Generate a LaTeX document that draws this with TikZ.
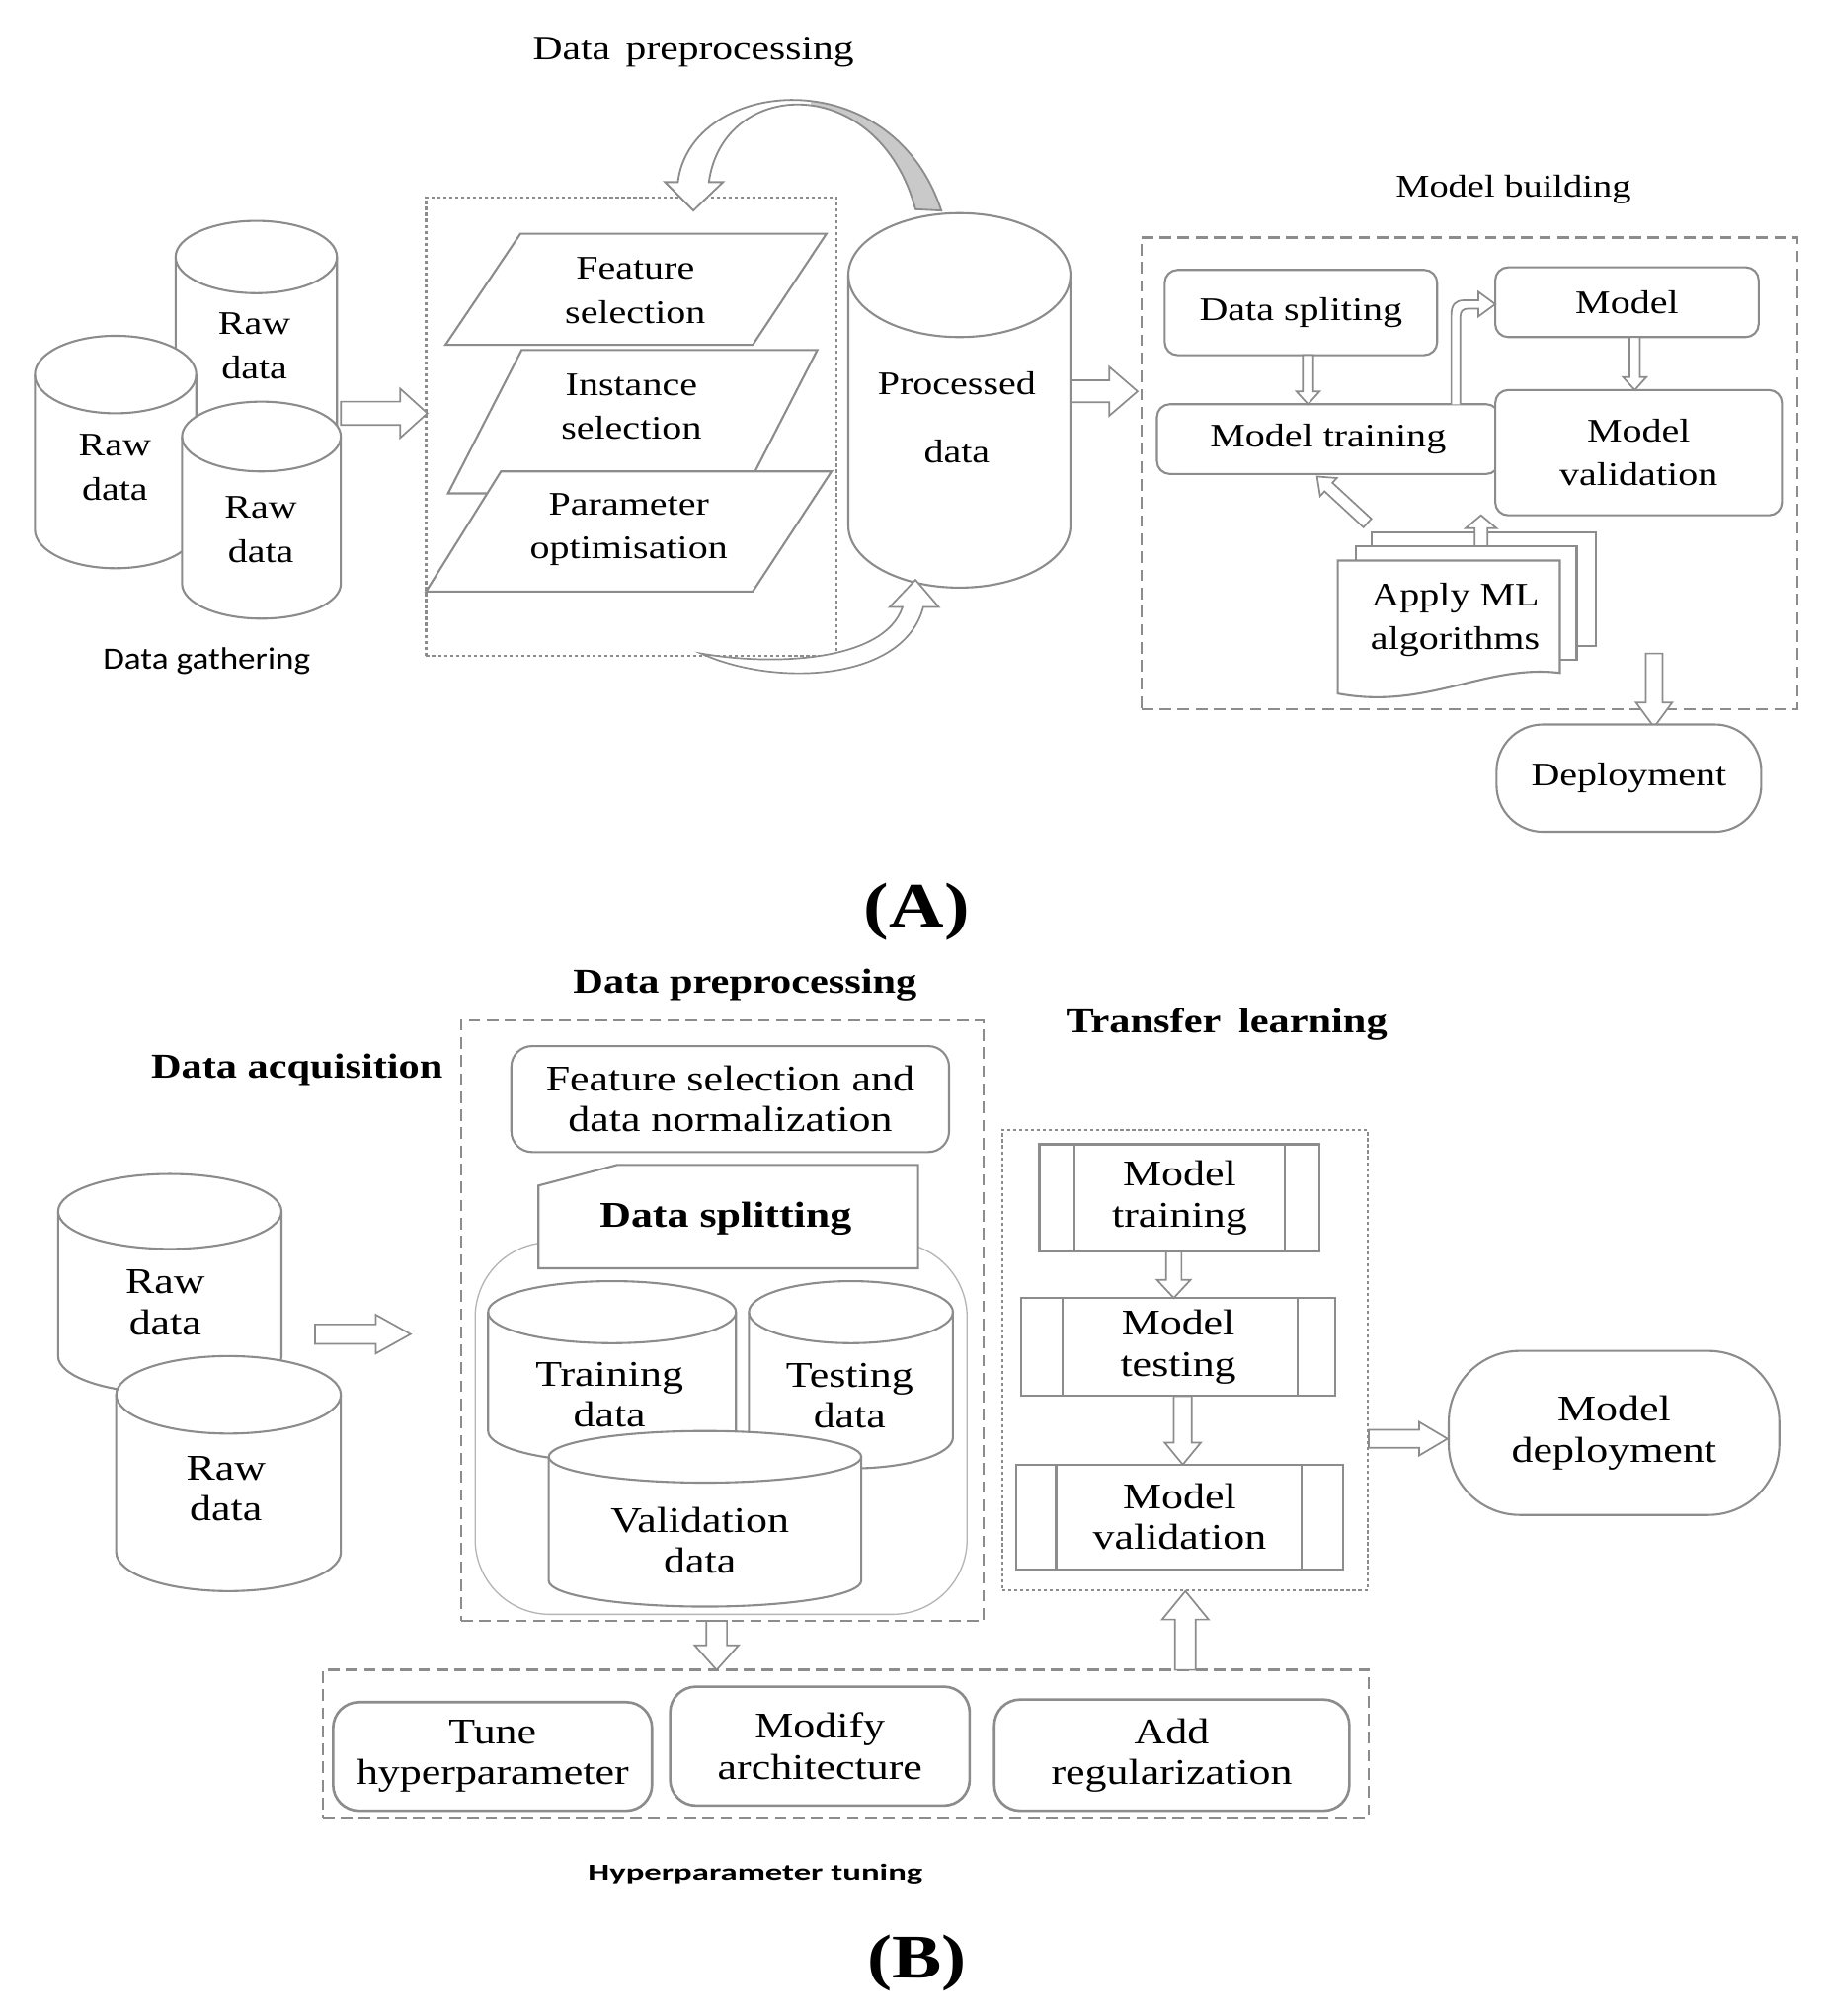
\documentclass[tikz,border=0pt]{standalone}
\usepackage{fontspec}
\setmainfont{Liberation Serif}[FakeStretch=1.2]
\newfontfamily\calA{Carlito}[FakeStretch=1.12]
\newfontfamily\calB{Carlito}[FakeStretch=1.5]
\usetikzlibrary{calc}
\definecolor{lg}{HTML}{8C8C8C}
\definecolor{lg2}{HTML}{B4B4B4}
\definecolor{gfill}{HTML}{C9C9C9}
\newcommand\fA{\fontsize{25.5}{34}\selectfont}
\newcommand\fP{\fontsize{25.5}{53}\selectfont}
\newcommand\fB{\fontsize{28}{31.5}\selectfont}
\newcommand\fT{\fontsize{27}{32}\selectfont\bfseries}
\newcommand\fL{\fontsize{49}{55}\selectfont\bfseries}
\tikzset{
 shp/.style={draw=lg, line width=1.6pt, fill=white},
 shpline/.style={draw=lg, line width=1.6pt},
 blk/.style={draw=lg, line width=1.3pt, fill=white, line join=miter},
 rbox/.style={shp, rounded corners=10pt, inner sep=0pt},
 txa/.style={font=\fA, align=center, inner sep=0pt, text=black},
 txb/.style={font=\fB, align=center, inner sep=0pt, text=black},
 dashbox/.style={draw=lg, line width=1.8pt, dash pattern=on 9pt off 5pt, inner sep=0pt},
 dotbox/.style={draw=lg, line width=1.6pt, dash pattern=on 2.4pt off 2.2pt, inner sep=0pt},
}
% hollow block arrow: start, end, shaft half width, head half width, head length
\newcommand\barrow[5]{%
 \coordinate (bH) at ($(#2)!#5!(#1)$);
 \draw[blk] ($(#1)!#3!90:(#2)$) -- ($(bH)!#3!90:(#2)$) -- ($(bH)!#4!90:(#2)$) -- (#2)
   -- ($(bH)!#4!-90:(#2)$) -- ($(bH)!#3!-90:(#2)$) -- ($(#1)!#3!-90:(#2)$) -- cycle;}
% cylinder: x left, x right, top y, bottom y, ellipse y radius
\newcommand\mycyl[5]{%
 \pgfmathsetmacro\cxx{(#1+#2)/2}%
 \pgfmathsetmacro\rxx{(#2-#1)/2}%
 \pgfmathsetmacro\tcy{#3+#5}%
 \pgfmathsetmacro\bcy{#4-#5}%
 \pgfmathsetmacro\kx{0.5523*\rxx}%
 \pgfmathsetmacro\ky{0.5523*#5}%
 \pgfmathsetmacro\tlow{#3+2*#5}%
 \draw[shp] (#1,\tcy) -- (#1,\bcy) .. controls (#1,\bcy+\ky) and (\cxx-\kx,#4) .. (\cxx,#4)
   .. controls (\cxx+\kx,#4) and (#2,\bcy+\ky) .. (#2,\bcy) -- (#2,\tcy)
   .. controls (#2,\tcy-\ky) and (\cxx+\kx,#3) .. (\cxx,#3)
   .. controls (\cxx-\kx,#3) and (#1,\tcy-\ky) .. (#1,\tcy) -- cycle;
 \draw[shpline] (#1,\tcy) .. controls (#1,\tcy+\ky) and (\cxx-\kx,\tlow) .. (\cxx,\tlow)
   .. controls (\cxx+\kx,\tlow) and (#2,\tcy+\ky) .. (#2,\tcy);}
\begin{document}
\begin{tikzpicture}[x=1pt,y=-1pt]
\fill[white] (0,0) rectangle (1414,1561);
\path[use as bounding box] (0,0) rectangle (1414,1561);

% ================= PART A =================
\node[font=\fontsize{26.5}{30}\selectfont, inner sep=0pt] (ttlA) at (537,40) {Data\hspace{0.45em}preprocessing};
\node[dotbox, minimum width=318pt, minimum height=355pt] (ppA) at (489,330.5) {};

% parallelograms
\draw[shp] (404,271) -- (633,271) -- (576,382) -- (347,382) -- cycle;
\draw[shp] (403,181) -- (640,181) -- (583,267) -- (345,267) -- cycle;
\draw[shp] (388,365) -- (644,365) -- (583,458) -- (330,458) -- cycle;
\node[txa] (fsel) at (492,225) {Feature\\selection};
\node[txa] (isel) at (489,315) {Instance\\selection};
\node[txa] (popt) at (487,410) {Parameter\\optimisation};

% raw data cylinders
\mycyl{136}{261}{171}{400}{28}
\mycyl{27}{152}{260}{440}{30}
\mycyl{141}{264}{311}{479}{27}
\node[txa] (rawA1) at (197,268) {Raw\\data};
\node[txa] (rawA2) at (89,362) {Raw\\data};
\node[txa] (rawA3) at (202,410) {Raw\\data};
\node[font=\calA\fontsize{24}{28}\selectfont, inner sep=0pt] (gathA) at (160,512) {Data gathering};

% processed data
\mycyl{657}{829}{165}{455}{48}
\node[font=\fP, align=center, inner sep=0pt] (proc) at (741,323) {Processed\\data};

% top curved arrow
\fill[white] (525,141) .. controls (535,60) and (690,45) .. (729,163) -- (709,162)
  .. controls (680,55) and (560,60) .. (549,141) -- (560,141) -- (537,163) -- (515,141) -- cycle;
\begin{scope}
\clip (628,0) rectangle (760,170);
\fill[gfill] (525,141) .. controls (535,60) and (690,45) .. (729,163) -- (709,162)
  .. controls (680,55) and (560,60) .. (549,141) -- cycle;
\end{scope}
\draw[draw=lg, line width=1.4pt, line join=miter] (525,141) .. controls (535,60) and (690,45) .. (729,163) -- (709,162)
  .. controls (680,55) and (560,60) .. (549,141) -- (560,141) -- (537,163) -- (515,141) -- cycle;

% bottom curved arrow
\draw[blk] (543,506) .. controls (600,532) and (700,528) .. (715,470) -- (727,470) -- (709,449)
  -- (689,470) -- (699,470) .. controls (685,512) and (600,516) .. (543,506) -- cycle;

% block arrows
\coordinate (a1s) at (264,320); \coordinate (a1e) at (331,320);
\barrow{a1s}{a1e}{9pt}{19pt}{21pt}
\coordinate (a2s) at (829,303); \coordinate (a2e) at (881,303);
\barrow{a2s}{a2e}{8.5pt}{19pt}{22pt}

% model building
\node[font=\fontsize{24.5}{30}\selectfont, inner sep=0pt] (ttlMB) at (1172,147) {Model building};
\node[dashbox, minimum width=508pt, minimum height=365pt] (mbox) at (1138,366.5) {};
\node[rbox, txa, minimum width=211pt, minimum height=66pt] (dsplit) at (1007.5,242) {Data spliting};
\node[rbox, txa, minimum width=204pt, minimum height=54pt] (model) at (1260,234) {Model};
\node[rbox, txa, minimum width=265pt, minimum height=54pt] (mtrain) at (1028.5,340) {Model training};
\node[rbox, txa, minimum width=222pt, minimum height=97pt] (mval) at (1269,350.5) {Model\\validation};

% apply ML documents
\draw[shp] (1062,412) rectangle (1236,500);
\coordinate (a8s) at (1147,423); \coordinate (a8e) at (1147,399);
\barrow{a8s}{a8e}{5pt}{12pt}{10pt}
\draw[shp] (1050,423) rectangle (1221,511);
\draw[shp] (1036,434) -- (1208,434) -- (1208,521) .. controls (1150,514) and (1105,550) .. (1036,537) -- cycle;
\node[txa] (aml) at (1127,480) {Apply ML\\algorithms};

% arrows inside model building
\coordinate (a3s) at (1013,275); \coordinate (a3e) at (1013,313);
\barrow{a3s}{a3e}{4pt}{9pt}{10pt}
\coordinate (a4s) at (1266,261); \coordinate (a4e) at (1266,302);
\barrow{a4s}{a4e}{4pt}{9pt}{10pt}
\coordinate (a6s) at (1059,405); \coordinate (a6e) at (1020,369);
\barrow{a6s}{a6e}{4.5pt}{9.5pt}{12pt}
\draw[blk] (1124,313) -- (1124,244) .. controls (1124,236) and (1127,232.5) .. (1134,232.5) -- (1145,232.5)
  -- (1145,226) -- (1158,235.5) -- (1145,245) -- (1145,239) -- (1137,239)
  .. controls (1133,239) and (1131,241) .. (1131,245) -- (1131,313);
\coordinate (a7s) at (1281,506); \coordinate (a7e) at (1281,563);
\barrow{a7s}{a7e}{6.5pt}{14pt}{19pt}
\node[shp, txa, minimum width=205pt, minimum height=83pt, rounded corners=36pt] (deploy) at (1261.5,602.5) {Deployment};

\node[font=\fL, inner sep=0pt] (labA) at (710,706) {(A)};

% ================= PART B =================
\node[font=\fT, inner sep=0pt] (ttlPP) at (577,763) {Data preprocessing};
\node[font=\fT, inner sep=0pt] (ttlDA) at (230,828) {Data acquisition};
\node[font=\fT, inner sep=0pt] (ttlTL) at (950,793) {Transfer\hspace{0.5em}learning};

\node[dashbox, minimum width=405pt, minimum height=465pt] (ppB) at (559.5,1022.5) {};
\node[shp, txb, rounded corners=16pt, minimum width=339pt, minimum height=82pt] (fsdn) at (565.5,851) {Feature selection and\\data normalization};
\node[draw=lg2, line width=1pt, rounded corners=58pt, minimum width=381pt, minimum height=288pt, inner sep=0pt] (grp) at (558.5,1106) {};
\draw[shp] (417,918) -- (478,902) -- (711,902) -- (711,982) -- (417,982) -- cycle;
\node[font=\fontsize{28}{31.5}\selectfont\bfseries, inner sep=0pt] (dsB) at (562,944) {Data splitting};

\mycyl{378}{570}{992}{1132}{24}
\mycyl{580}{738}{992}{1137}{24}
\mycyl{425}{667}{1108}{1244}{20}
\node[txb] (trd) at (472,1080) {Training\\data};
\node[txb] (ted) at (658,1080.5) {Testing\\data};
\node[txb] (vad) at (542,1193) {Validation\\data};

% raw data B
\mycyl{45}{218}{909}{1079}{29}
\mycyl{90}{264}{1050}{1232}{30}
\node[txb] (rawB1) at (128,1008.5) {Raw\\data};
\node[txb] (rawB2) at (175,1152.5) {Raw\\data};
\coordinate (b1s) at (244,1033); \coordinate (b1e) at (318,1033);
\barrow{b1s}{b1e}{7.5pt}{15pt}{27pt}

% transfer learning
\node[dotbox, minimum width=283pt, minimum height=356pt] (tlbox) at (917.5,1053) {};
\node[shp, txb, minimum width=217pt, minimum height=83pt, inner sep=0pt] (mtrB) at (913.5,927.5) {Model\\training};
\draw[shpline] (832,886) -- (832,969); \draw[shpline] (995,886) -- (995,969);
\node[shp, txb, minimum width=243pt, minimum height=76pt, inner sep=0pt] (mteB) at (912.5,1043) {Model\\testing};
\draw[shpline] (823,1005) -- (823,1081); \draw[shpline] (1005,1005) -- (1005,1081);
\node[shp, txb, minimum width=253pt, minimum height=81pt, inner sep=0pt] (mvaB) at (913.5,1174.5) {Model\\validation};
\draw[shpline] (818,1134) -- (818,1215); \draw[shpline] (1008,1134) -- (1008,1215);
\coordinate (b2s) at (909,969); \coordinate (b2e) at (909,1005);
\barrow{b2s}{b2e}{6pt}{13pt}{14pt}
\coordinate (b3s) at (916,1081); \coordinate (b3e) at (916,1134);
\barrow{b3s}{b3e}{7pt}{14pt}{17pt}
\coordinate (b4s) at (1060,1114); \coordinate (b4e) at (1121,1114);
\barrow{b4s}{b4e}{7pt}{13pt}{22pt}
\node[shp, txb, minimum width=256pt, minimum height=127pt, rounded corners=55pt] (mdep) at (1250,1109.5) {Model\\deployment};

% hyperparameter tuning
\node[dashbox, minimum width=810pt, minimum height=115pt] (hbox) at (655,1350.5) {};
\node[shp, txb, line width=2pt, rounded corners=20pt, minimum width=247pt, minimum height=84pt] (tune) at (381.5,1360) {Tune\\hyperparameter};
\node[shp, txb, line width=2pt, rounded corners=20pt, minimum width=232pt, minimum height=92pt] (modi) at (635,1352) {Modify\\architecture};
\node[shp, txb, line width=2pt, rounded corners=20pt, minimum width=275pt, minimum height=86pt] (addr) at (907.5,1359) {Add\\regularization};
\coordinate (b5s) at (555,1255); \coordinate (b5e) at (555,1293);
\barrow{b5s}{b5e}{8pt}{17pt}{19pt}
\coordinate (b6s) at (918,1293); \coordinate (b6e) at (918,1232);
\barrow{b6s}{b6e}{8pt}{18pt}{22pt}
\node[font=\calB\bfseries\fontsize{17.7}{20}\selectfont, inner sep=0pt] (htune) at (585,1451) {Hyperparameter tuning};

\node[font=\fontsize{48}{55}\selectfont\bfseries, inner sep=0pt] (labB) at (710,1520) {(B)};
\end{tikzpicture}
\end{document}
